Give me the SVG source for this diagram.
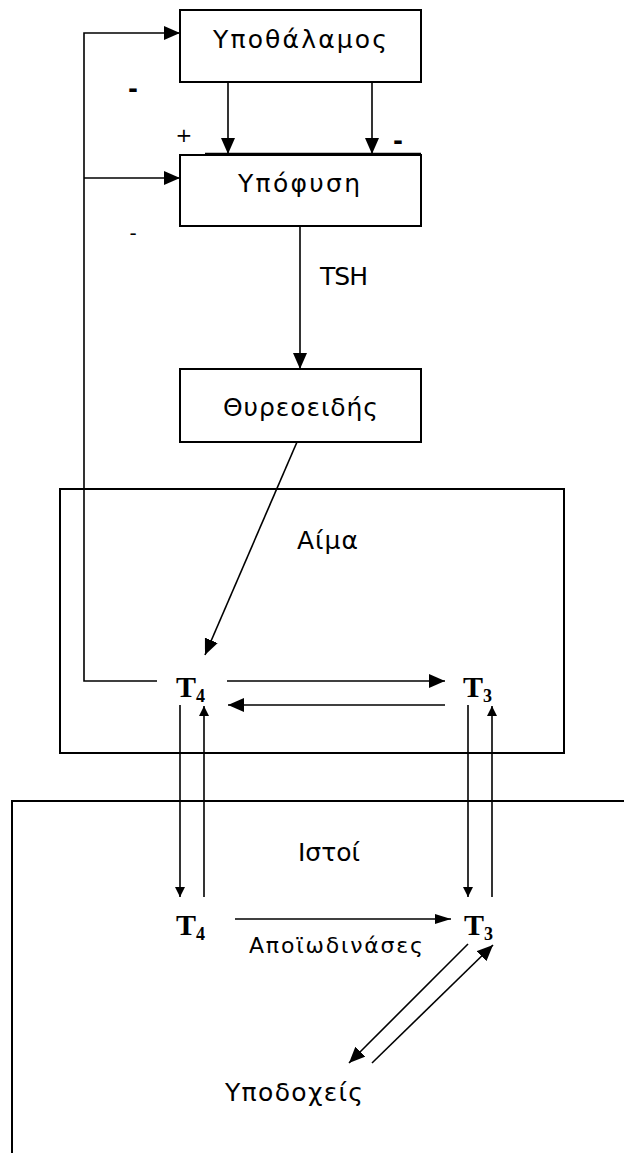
<svg xmlns="http://www.w3.org/2000/svg" width="624" height="1153" viewBox="0 0 624 1153">
<style>
.box{fill:none;stroke:#000;stroke-width:2}
.ln{fill:none;stroke:#000;stroke-width:1.6}
.t{font-family:"DejaVu Sans","Noto Sans",sans-serif;font-size:25px;fill:#000}
.s{font-family:"DejaVu Sans","Noto Sans",sans-serif;font-size:22px;fill:#000}
.h{font-family:"Liberation Serif","Times New Roman",serif;font-weight:bold;font-size:30px;fill:#000}
.sub{font-size:18px}
.sg{font-family:"DejaVu Sans",sans-serif;fill:#000}
</style>
<defs>
<marker id="big" markerUnits="userSpaceOnUse" markerWidth="16" markerHeight="14" refX="16" refY="7" orient="auto"><path d="M0,0 L16,7 L0,14 z" fill="#000"/></marker>
<marker id="med" markerUnits="userSpaceOnUse" markerWidth="16" markerHeight="14" refX="16" refY="7" orient="auto"><path d="M0,0 L16,7 L0,14 z" fill="#000"/></marker>
<marker id="sm" markerUnits="userSpaceOnUse" markerWidth="16" markerHeight="10" refX="16" refY="5" orient="auto"><path d="M0,0 L16,5 L0,10 z" fill="#000"/></marker>
<marker id="vs" markerUnits="userSpaceOnUse" markerWidth="10" markerHeight="10" refX="10" refY="5" orient="auto"><path d="M0,0 L10,5 L0,10 z" fill="#000"/></marker>
</defs>

<g id="regions">
<rect id="aima-box" class="box" x="60" y="489" width="504" height="264"/>
<path id="istoi-box" class="box" d="M12,1153 V801 H624"/>
</g>

<g id="hypothalamus">
<rect class="box" x="180" y="10" width="241" height="72"/>
<text class="t" x="213" y="48" textLength="174" lengthAdjust="spacing">Υποθάλαμος</text>
</g>
<g id="pituitary">
<rect class="box" x="180" y="155" width="241" height="71"/>
<text class="t" x="238" y="192" textLength="122" lengthAdjust="spacing">Υπόφυση</text>
</g>
<g id="thyroid">
<rect class="box" x="180" y="369" width="241" height="73"/>
<text class="t" x="223" y="416" textLength="155" lengthAdjust="spacing">Θυρεοειδής</text>
</g>

<g id="labels">
<text class="t" x="320" y="285" textLength="48" lengthAdjust="spacing">TSH</text>
<text class="t" x="297" y="549" textLength="61" lengthAdjust="spacing">Αίμα</text>
<text class="t" x="298" y="861" textLength="62" lengthAdjust="spacing">Ιστοί</text>
<text class="s" x="249" y="953" textLength="174" lengthAdjust="spacing">Αποϊωδινάσες</text>
<text class="t" x="225" y="1101" textLength="138" lengthAdjust="spacing">Υποδοχείς</text>
<text class="sg" x="133" y="97" font-size="24" font-weight="bold" text-anchor="middle">-</text>
<text class="sg" x="184" y="142" font-size="20" text-anchor="middle">+</text>
<text class="sg" x="398" y="149" font-size="24" font-weight="bold" text-anchor="middle">-</text>
<text class="sg" x="133" y="240" font-size="20" text-anchor="middle">-</text>
</g>

<g id="t4-blood"><text class="h" x="176" y="697">T<tspan class="sub" dy="5">4</tspan></text></g>
<g id="t3-blood"><text class="h" x="463" y="697">T<tspan class="sub" dy="5">3</tspan></text></g>
<g id="t4-tissue"><text class="h" x="176" y="935">T<tspan class="sub" dy="5">4</tspan></text></g>
<g id="t3-tissue"><text class="h" x="464" y="935">T<tspan class="sub" dy="5">3</tspan></text></g>

<g id="connectors">
<path class="ln" d="M157,681 H84 V33 H180" marker-end="url(#big)"/>
<path class="ln" d="M84,178 H180" marker-end="url(#big)"/>
<path class="ln" d="M228,82 V154" marker-end="url(#big)"/>
<path class="ln" d="M372,82 V154" marker-end="url(#big)"/>
<path class="ln" d="M205,153.5 H421"/>
<path class="ln" d="M300,226 V369" marker-end="url(#big)"/>
<path class="ln" d="M297,442 L205,655" marker-end="url(#med)"/>
<path class="ln" d="M227,681 H445" marker-end="url(#med)"/>
<path class="ln" d="M445,705 H228" marker-end="url(#med)"/>
<path class="ln" d="M180,705 V897" marker-end="url(#vs)"/>
<path class="ln" d="M204,897 V706" marker-end="url(#vs)"/>
<path class="ln" d="M468,705 V897" marker-end="url(#vs)"/>
<path class="ln" d="M492,897 V706" marker-end="url(#vs)"/>
<path class="ln" d="M235,919 H451" marker-end="url(#sm)"/>
<path class="ln" d="M468,944 L349,1063" marker-end="url(#med)"/>
<path class="ln" d="M372,1063 L493,945" marker-end="url(#med)"/>
</g>
</svg>
